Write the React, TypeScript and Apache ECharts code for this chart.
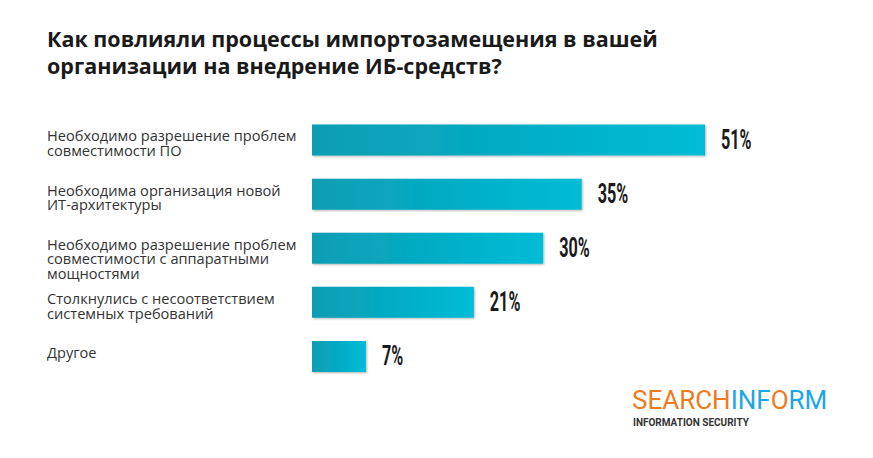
import React, { useEffect, useRef } from "react";
import * as echarts from "echarts";

const titleText = "Как повлияли процессы импортозамещения в вашей\nорганизации на внедрение ИБ-средств?";
const categories = [
  "Необходимо разрешение проблем\nсовместимости ПО",
  "Необходима организация новой\nИТ-архитектуры",
  "Необходимо разрешение проблем\nсовместимости с аппаратными\nмощностями",
  "Столкнулись с несоответствием\nсистемных требований",
  "Другое",
];
const values = [51, 35, 30, 21, 7];
const logoParts = ["SEARCH", "INF", "O", "RM"];
const logoSub = "INFORMATION SECURITY";

export default function App() {
  const ref = useRef<HTMLDivElement>(null);
  useEffect(() => {
    document.body.style.margin = "0";
    const chart = echarts.init(ref.current!, null, { renderer: "svg" });
    chart.setOption({
      animation: false,
      backgroundColor: "#ffffff",
      title: {
        text: titleText,
        left: 47,
        top: 25,
        padding: 0,
        textStyle: {
          fontFamily: "Open Sans",
          fontWeight: "bold",
          fontSize: 21.5,
          lineHeight: 27,
          color: "#1a1a1a",
        },
      },
      grid: { left: 312, right: 168, top: 113, bottom: 74.5 },
      xAxis: { type: "value", min: 0, max: 51, show: false },
      yAxis: {
        type: "category",
        inverse: true,
        data: categories,
        axisLine: { show: false },
        axisTick: { show: false },
        axisLabel: {
          align: "left",
          verticalAlign: "top",
          margin: 265,
          padding: [-12, 0, 0, 0],
          fontFamily: "Open Sans",
          fontSize: 14.6,
          lineHeight: 14.8,
          color: "#333333",
        },
      },
      series: [
        {
          type: "bar",
          data: values,
          barWidth: 31,
          itemStyle: {
            color: new echarts.graphic.LinearGradient(0, 0, 1, 0, [
              { offset: 0, color: "#0a9db3" },
              { offset: 1, color: "#00bcd6" },
            ]),
            shadowColor: "rgba(0,0,0,0.3)",
            shadowBlur: 2,
            shadowOffsetX: 1,
            shadowOffsetY: 1,
          },
        },
        {
          type: "custom",
          data: values.map((v, i) => [v, i]),
          renderItem: (params: any, api: any) => {
            const p = api.coord([api.value(0), api.value(1)]);
            return {
              type: "text",
              x: p[0] + 16,
              y: p[1] - 1,
              scaleX: 0.6,
              style: {
                text: api.value(0) + "%",
                fontFamily: "Roboto",
                fontWeight: "bold",
                fontSize: 27,
                fill: "#1a1a1a",
                align: "left",
                verticalAlign: "middle",
              },
            };
          },
        },
      ],
      graphic: [
        {
          type: "text",
          left: 632,
          top: 387,
          style: {
            text: `{o|${logoParts[0]}}{b|${logoParts[1]}}{o|${logoParts[2]}}{b|${logoParts[3]}}`,
            rich: {
              o: { fill: "#f07a1c", fontFamily: "Roboto", fontSize: 26, fontWeight: 400 },
              b: { fill: "#1ba6e8", fontFamily: "Roboto", fontSize: 26, fontWeight: 400 },
            },
          },
        },
        {
          type: "text",
          left: 633,
          top: 417,
          style: {
            text: logoSub,
            fill: "#333333",
            fontFamily: "Roboto",
            fontWeight: "bold",
            fontSize: 10,
          },
        },
      ],
    });
    return () => chart.dispose();
  }, []);
  return <div ref={ref} style={{ width: 873, height: 458 }} />;
}
